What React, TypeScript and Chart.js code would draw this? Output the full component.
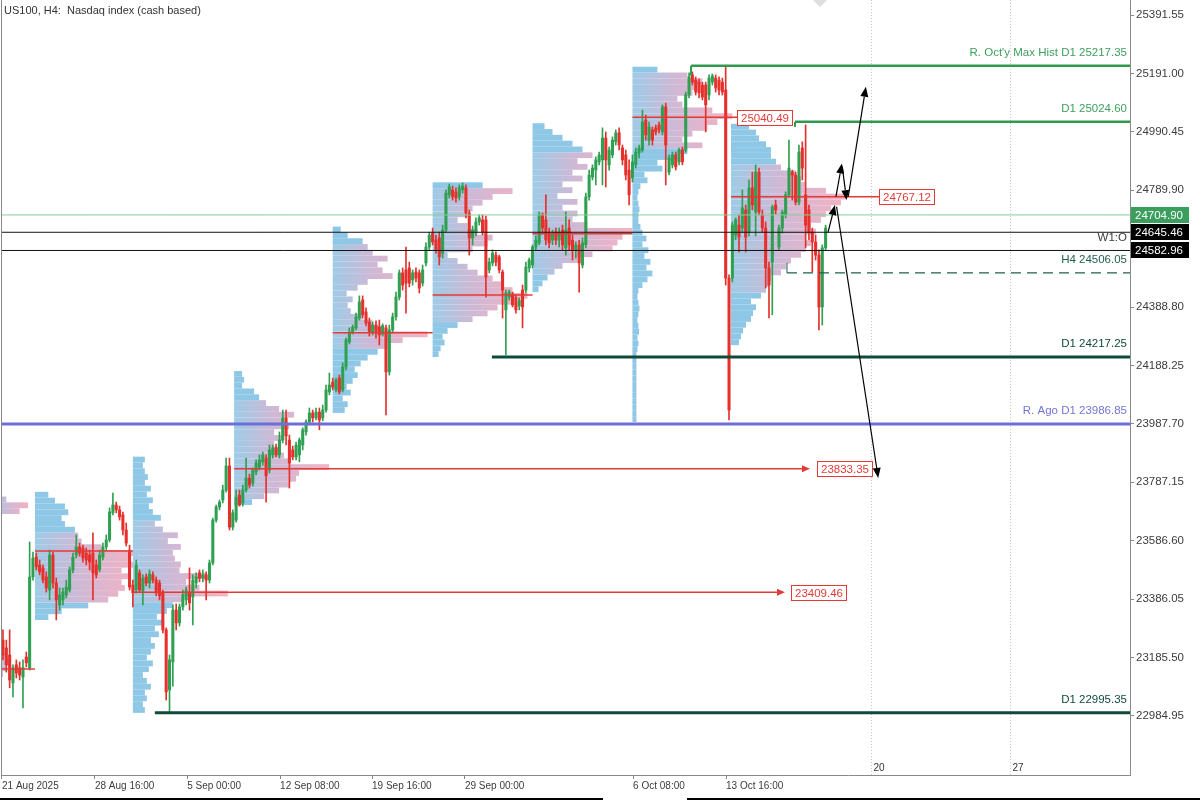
import React, { useEffect, useRef } from "react";
import { Chart, registerables } from "chart.js";

Chart.register(...registerables);

// ---------------- data ----------------
const opens = [
  23245,23218,23194,23098,23160,23150,23118,23187,23150,23462,
  23530,23503,23493,23462,23417,23537,23441,23366,23383,23400,
  23417,23486,23537,23565,23561,23544,23537,23544,23503,23486,
  23530,23565,23589,23682,23709,23692,23675,23623,23554,23434,
  23417,23476,23414,23462,23441,23469,23451,23441,23407,23280,
  23074,23170,23348,23304,23359,23383,23407,23393,23441,23476,
  23458,23469,23451,23510,23657,23702,23726,23760,23843,23633,
  23657,23743,23716,23760,23801,23784,23822,23839,23857,23870,
  23829,23881,23905,23881,23932,24008,23932,23898,23874,23881,
  23915,23960,23994,24025,24008,24028,24008,24035,24097,24131,
  24104,24145,24104,24183,24269,24303,24317,24351,24413,24372,
  24337,24303,24327,24320,24296,24317,24166,24310,24355,24423,
  24506,24516,24523,24482,24509,24506,24471,24540,24595,24643,
  24619,24626,24574,24653,24774,24791,24784,24767,24791,24798,
  24712,24626,24646,24681,24688,24688,24516,24540,24567,24561,
  24509,24379,24423,24433,24420,24392,24447,24447,24523,24533,
  24595,24609,24705,24688,24643,24619,24646,24619,24653,24592,
  24660,24619,24585,24602,24533,24602,24767,24835,24859,24887,
  24894,24969,24877,24911,24956,24987,24935,24911,24859,24832,
  24877,24918,24928,25031,24962,24997,25004,25014,24990,25076,
  24852,24877,24911,24887,24928,24928,25117,25186,25168,25161,
  25151,25151,25117,25161,25175,25168,25161,25134,24488,24488,
  24636,24670,24660,24722,24646,24798,24715,24852,24705,24660,
  24523,24543,24739,24595,24660,24705,24774,24852,24842,24749,
  24935,24774,24722,24646,24612,24567,24389,24592,
];
const highs = [
  23280,23245,23280,23160,23177,23170,23177,23204,23582,23547,
  23544,23520,23503,23479,23554,23547,23458,23424,23424,23451,
  23496,23544,23606,23578,23571,23561,23554,23613,23520,23554,
  23578,23606,23699,23750,23719,23705,23685,23647,23571,23451,
  23520,23486,23469,23472,23486,23479,23462,23451,23417,23287,
  23194,23366,23369,23369,23417,23427,23493,23469,23476,23486,
  23486,23479,23520,23664,23709,23726,23777,23870,23870,23692,
  23760,23760,23777,23870,23815,23836,23864,23881,23891,23881,
  23915,23915,23918,23960,24035,24035,23949,23911,23925,23939,
  23974,24001,24042,24035,24042,24042,24052,24121,24162,24145,
  24145,24155,24197,24282,24317,24327,24368,24427,24427,24386,
  24351,24337,24341,24344,24331,24327,24327,24368,24440,24516,
  24523,24595,24543,24516,24523,24516,24533,24609,24646,24660,
  24636,24646,24670,24791,24811,24804,24798,24808,24815,24808,
  24722,24667,24695,24705,24705,24701,24557,24585,24578,24567,
  24516,24447,24447,24440,24430,24420,24464,24543,24557,24602,
  24633,24715,24712,24774,24660,24653,24660,24660,24670,24715,
  24688,24636,24612,24619,24626,24780,24859,24877,24904,24921,
  25004,24990,24938,24973,24997,25004,24945,24928,24894,24911,
  24935,24945,25065,25048,25024,25007,25014,25024,25083,25089,
  24911,24921,24921,24935,24938,25127,25193,25196,25179,25172,
  25161,25161,25186,25189,25186,25179,25175,25213,24499,24681,
  24695,24705,24791,24739,24825,24852,24877,24866,24722,24681,
  24543,24739,24756,24670,24722,24784,24962,24859,24852,24945,
  24956,25014,24739,24660,24636,24585,24602,24670,
];
const lows = [
  23177,23135,23081,23050,23115,23108,23012,23153,23142,23451,
  23486,23469,23441,23410,23383,23424,23314,23348,23366,23390,
  23410,23476,23527,23533,23513,23503,23486,23383,23458,23479,
  23520,23554,23582,23675,23682,23657,23606,23568,23417,23359,
  23407,23410,23366,23431,23424,23441,23397,23383,23270,23039,
  22995,23087,23280,23293,23348,23366,23348,23297,23424,23445,
  23445,23383,23441,23503,23650,23692,23716,23753,23623,23623,
  23650,23705,23705,23753,23767,23774,23812,23829,23846,23719,
  23819,23870,23874,23870,23922,23915,23767,23864,23864,23857,
  23898,23949,23984,23994,24001,23967,23998,24028,24087,24104,
  24097,24090,24097,24173,24262,24296,24310,24344,24351,24324,
  24289,24293,24282,24259,24289,24018,24155,24300,24344,24413,
  24447,24368,24458,24464,24475,24437,24461,24530,24585,24602,
  24574,24533,24557,24646,24763,24756,24749,24756,24780,24695,
  24567,24602,24633,24670,24636,24423,24506,24530,24530,24506,
  24351,24224,24413,24389,24368,24379,24317,24437,24509,24523,
  24585,24602,24646,24602,24592,24602,24602,24595,24585,24567,
  24585,24550,24557,24440,24523,24592,24756,24825,24808,24877,
  24808,24801,24859,24901,24945,24928,24877,24825,24739,24818,
  24866,24901,24921,24962,24945,24945,24980,24987,24980,24808,
  24842,24866,24859,24877,24877,24921,25107,25151,25117,25107,
  25100,24990,25100,25151,25127,25117,25117,24464,24001,24475,
  24619,24578,24646,24578,24633,24722,24633,24705,24646,24454,
  24351,24362,24708,24585,24643,24695,24767,24756,24739,24739,
  24825,24592,24619,24509,24550,24310,24327,24585,
];
const closes = [
  23194,23160,23108,23150,23132,23125,23150,23167,23462,23527,
  23496,23479,23451,23424,23537,23441,23383,23400,23410,23427,
  23486,23530,23565,23544,23527,23520,23513,23476,23469,23537,
  23565,23589,23685,23709,23692,23668,23623,23578,23427,23407,
  23503,23417,23458,23441,23472,23451,23407,23397,23280,23067,
  23177,23348,23304,23359,23400,23417,23373,23451,23462,23458,
  23469,23451,23510,23657,23702,23719,23760,23843,23633,23682,
  23736,23709,23760,23801,23777,23829,23853,23864,23881,23809,
  23898,23905,23881,23932,24008,23946,23853,23874,23915,23932,
  23967,23994,24025,24008,24028,24001,24035,24104,24121,24114,
  24138,24097,24183,24276,24303,24320,24355,24406,24362,24334,
  24303,24327,24300,24293,24324,24166,24310,24355,24423,24506,
  24464,24471,24471,24506,24488,24454,24516,24595,24636,24612,
  24585,24561,24653,24780,24801,24767,24763,24798,24804,24712,
  24626,24653,24681,24695,24646,24492,24543,24574,24543,24516,
  24447,24437,24440,24396,24379,24413,24389,24526,24550,24595,
  24619,24705,24660,24619,24609,24643,24619,24646,24602,24653,
  24602,24585,24602,24540,24609,24767,24842,24866,24894,24911,
  24969,24894,24928,24962,24987,24945,24894,24842,24774,24887,
  24921,24935,25024,24980,25007,24962,24990,24997,25076,24945,
  24901,24911,24870,24928,24887,25117,25179,25161,25127,25124,
  25110,25083,25175,25182,25141,25134,25127,24488,24035,24670,
  24688,24629,24729,24629,24798,24739,24852,24715,24660,24523,
  24464,24732,24722,24660,24715,24774,24866,24842,24749,24921,
  24866,24670,24646,24612,24567,24389,24592,24660,
];

const xTickIdx = [-0.3, 27.6, 55.3, 83.2, 110.8, 138.7, 189.2, 217.1];
const xTickLabels = ["21 Aug 2025", "28 Aug 16:00", "5 Sep 00:00", "12 Sep 08:00", "19 Sep 16:00", "29 Sep 00:00", "6 Oct 08:00", "13 Oct 16:00"];
const yTickValues = [22984.95, 23185.5, 23386.05, 23586.6, 23787.15, 23987.7, 24188.25, 24388.8, 24789.9, 24990.45, 25191.0, 25391.55];
const futureIdx = [260.7, 302.4];
const futureLabels = ["20", "27"];

// weekly volume profiles (time at price, in bars) — rows of 20 points from base upward
const profileStart = [-3, 9.6, 39, 69.4, 99, 129, 159, 189, 218.6];
const profileBase = [23118, 23314, 22995, 23709, 24025, 24217, 24440, 23994, 24258];
const profileVA = [[23100, 23800], [23383, 23623], [23383, 23657], [23726, 24069], [24241, 24595], [24344, 24791], [24499, 24928], [24928, 25186], [24447, 24876]];
const profile0 = [3, 4, 5, 4, 3, 0, 0, 0, 0, 0, 0, 0, 0, 0, 0, 0, 0, 0, 0, 0, 0, 0, 0, 0, 0, 0, 0, 0, 8, 10.5, 4];
const profile1 = [4, 8, 16, 22, 25, 27, 26, 28, 26, 30, 28, 31, 20, 14, 13, 12, 9, 8, 10, 9, 6, 4];
const profile2 = [3.6, 3, 4.2, 3.6, 5.4, 4.2, 3, 4.8, 6, 4.2, 5.4, 6.6, 5.4, 7.8, 6.6, 9, 7.2, 10.2, 12, 15, 28.5, 20, 16, 22, 14, 14.4, 12.6, 12, 14.4, 10.5, 13.5, 9, 6.6, 8.4, 6, 4.8, 6, 4.2, 5.4, 3.6, 4.5, 3.6, 3, 3.6];
const profile3 = [5.4, 9, 13.5, 16.5, 18.6, 19.5, 28.5, 16.5, 15, 13.5, 12, 14.4, 12, 16.5, 15, 18, 13.5, 9.6, 7.5, 6, 2.4, 3, 2.4];
const profile4 = [3.6, 4.5, 3, 5.4, 4.2, 6, 7.5, 6.6, 8.4, 10.5, 13.5, 16.5, 21, 28.5, 15, 12, 9, 5.4, 4.5, 6, 4.2, 7.5, 10.5, 18, 15, 13.5, 16.5, 12, 10.5, 9, 4.5, 2.4];
const profile5 = [1.8, 2.4, 3.6, 3, 4.5, 7.5, 12, 16.5, 19.5, 24, 28.5, 24, 21, 18, 13.5, 10.5, 7.5, 4.5, 12, 16.5, 18, 13.5, 10.5, 7.5, 10.5, 12, 15, 18, 24, 15];
const profile6 = [1.8, 3, 4.5, 6.6, 9, 13.5, 18, 24, 25.5, 27, 30, 16.5, 12, 13.5, 9, 13.5, 7.5, 12, 9, 15, 12, 16.5, 13.5, 18, 15, 12, 9, 6, 3.6];
const profile7 = [1.2, 1.2, 1.2, 1.2, 1.2, 1.2, 1.2, 1.2, 1.2, 1.2, 1.2, 1.2, 1.5, 1.8, 1.5, 2, 1.8, 1.5, 1.8, 2.1, 1.8, 1.5, 1.8, 3, 4.5, 6, 4.2, 5.4, 3.6, 4.8, 3, 4.2, 3, 2.4, 1.8, 1.8, 2.1, 1.8, 1.5, 1.8, 2.4, 4.5, 3.6, 9, 7.5, 13.5, 16.5, 21, 15, 18, 22.5, 25.5, 30, 24, 15, 13.5, 18, 19.5, 21, 16.5, 7.5];
const profile8 = [2.4, 3, 3.6, 4.5, 6, 6.6, 7.5, 6, 9, 10.5, 11.4, 12, 15, 16.5, 18, 21, 22.5, 24, 22.5, 25.5, 24, 27, 28.5, 30, 33, 34.5, 28.5, 22.5, 21, 19.5, 15, 13.5, 12, 12, 10.5, 8.4, 7.5, 5.4];
const profileVols = [profile0, profile1, profile2, profile3, profile4, profile5, profile6, profile7, profile8];
const ROW_STEP = 20;

// points of control per week
const pocPrices = [23146, 23551, 23409.46, 23833.35, 24300, 24430, 24640, 25040.49, 24767.12];
const pocEnds = [9.6, 39, 234.8, 242.3, 129, 159, 189, 220.4, 263.1];
const pocBoxAt = [null, null, 236.6, 244.4, null, null, null, 220.4, 263.1];

// horizontal levels
const levelPrices = [25217.35, 25024.6, 24704.9, 24645.46, 24582.96, 24506.05, 24217.25, 23986.85, 22995.35];
const levelStarts = [206.6, 237.8, -0.6, -0.6, -0.6, 235.4, 146.8, -0.6, 45.6];
const levelTexts = ["R. Oct'y Max Hist D1 25217.35", "D1 25024.60", "", "", "W1:O", "H4 24506.05", "D1 24217.25", "R. Ago D1 23986.85", "D1 22995.35"];
const axisBoxPrices = [24704.9, 24645.46, 24582.96];

// scenario arrows [index, price]
const arrowFrom = [[247.7, 24644], [250.1, 24768], [252.0, 24871], [253.8, 24768], [250.3, 24733]];
const arrowTo = [[249.8, 24739], [251.9, 24882], [253.3, 24756], [259.1, 25145], [262.8, 23802]];

// ---------------- styles ----------------
const FONT = "'Liberation Sans', Arial, sans-serif";
const GREEN = "#2fa052";
const RED = "#e7302c";
const POC_RED = "#e23b36";
const PROFILE_BLUE = "#8fc8e6";
const levelStyles = [
  { color: "#2f9a4e", text: "#3e9e5e", width: 2.5, dash: [] as number[], stub: 10 },
  { color: "#2f9a4e", text: "#3e9e5e", width: 2.5, dash: [] as number[], stub: 5 },
  { color: "#86cf98", text: "", width: 1, dash: [] as number[], stub: 0 },
  { color: "#111111", text: "", width: 1, dash: [] as number[], stub: 0 },
  { color: "#111111", text: "#3a3a3a", width: 1, dash: [] as number[], stub: 0 },
  { color: "#1f5f4d", text: "#1f5f4d", width: 1.2, dash: [10, 6], stub: -10 },
  { color: "#0f4a3b", text: "#0f4a3b", width: 3, dash: [] as number[], stub: 0 },
  { color: "#6d6fd9", text: "#7474d4", width: 3, dash: [] as number[], stub: 0 },
  { color: "#0f4a3b", text: "#0f4a3b", width: 3, dash: [] as number[], stub: 0 },
];
const axisBoxColors = ["#3a9f5c", "#000000", "#000000"];

function drawArrow(ctx: CanvasRenderingContext2D, x1: number, y1: number, x2: number, y2: number, len: number, half: number, color: string, lw: number) {
  const a = Math.atan2(y2 - y1, x2 - x1);
  const bx = x2 - len * Math.cos(a);
  const by = y2 - len * Math.sin(a);
  ctx.strokeStyle = color;
  ctx.fillStyle = color;
  ctx.lineWidth = lw;
  ctx.setLineDash([]);
  ctx.beginPath();
  ctx.moveTo(x1, y1);
  ctx.lineTo(bx, by);
  ctx.stroke();
  ctx.beginPath();
  ctx.moveTo(x2, y2);
  ctx.lineTo(bx + half * Math.sin(a), by - half * Math.cos(a));
  ctx.lineTo(bx - half * Math.sin(a), by + half * Math.cos(a));
  ctx.closePath();
  ctx.fill();
}

const profilePlugin = {
  id: "profiles",
  beforeDatasetsDraw(chart: any) {
    const { ctx, chartArea, scales } = chart;
    const xs = scales.x, ys = scales.y;
    ctx.save();
    ctx.beginPath();
    ctx.rect(chartArea.left, chartArea.top, chartArea.right - chartArea.left, chartArea.bottom - chartArea.top);
    ctx.clip();
    profileVols.forEach((vols, p) => {
      const x0 = xs.getPixelForValue(profileStart[p]);
      const maxV = Math.max(...vols);
      const maxW = xs.getPixelForValue(profileStart[p] + maxV) - x0;
      const grad = ctx.createLinearGradient(x0, 0, x0 + maxW, 0);
      grad.addColorStop(0, "#9ecbe6");
      grad.addColorStop(0.4, "#cdb9d6");
      grad.addColorStop(1, "#f4b2c2");
      vols.forEach((v: number, k: number) => {
        if (v <= 0) return;
        const lo = profileBase[p] + k * ROW_STEP;
        const hi = lo + ROW_STEP;
        const yt = ys.getPixelForValue(hi);
        const yb = ys.getPixelForValue(lo);
        const w = xs.getPixelForValue(profileStart[p] + v) - x0;
        const mid = lo + ROW_STEP / 2;
        const va = profileVA[p];
        ctx.fillStyle = mid >= va[0] && mid <= va[1] ? grad : PROFILE_BLUE;
        ctx.fillRect(x0, yt, w, yb - yt);
      });
    });
    ctx.restore();
  },
};

const overlayPlugin = {
  id: "overlay",
  afterDatasetsDraw(chart: any) {
    const { ctx, chartArea, scales } = chart;
    const xs = scales.x, ys = scales.y;
    const X = (v: number) => xs.getPixelForValue(v);
    const Y = (v: number) => ys.getPixelForValue(v);
    ctx.save();
    ctx.beginPath();
    ctx.rect(chartArea.left, chartArea.top, chartArea.right - chartArea.left, chartArea.bottom - chartArea.top);
    ctx.clip();

    // future day separators
    futureIdx.forEach((v, i) => {
      const x = Math.round(X(v)) + 0.5;
      ctx.strokeStyle = "#c9c9c9";
      ctx.lineWidth = 1;
      ctx.setLineDash([1, 2]);
      ctx.beginPath();
      ctx.moveTo(x, chartArea.top);
      ctx.lineTo(x, chartArea.bottom);
      ctx.stroke();
      ctx.setLineDash([]);
      ctx.fillStyle = "#333";
      ctx.font = `10px ${FONT}`;
      ctx.textAlign = "left";
      ctx.textBaseline = "alphabetic";
      ctx.fillText(futureLabels[i], x + 2, chartArea.bottom - 4);
    });

    // horizontal levels
    levelPrices.forEach((price, i) => {
      const st = levelStyles[i];
      const y = Y(price);
      const x0 = X(levelStarts[i]);
      ctx.strokeStyle = st.color;
      ctx.lineWidth = st.width;
      ctx.setLineDash(st.dash);
      ctx.beginPath();
      ctx.moveTo(x0, y);
      ctx.lineTo(chartArea.right, y);
      ctx.stroke();
      ctx.setLineDash([]);
      if (st.stub) {
        ctx.lineWidth = st.width > 2 ? 2 : 1;
        ctx.beginPath();
        ctx.moveTo(x0, y);
        ctx.lineTo(x0, y + st.stub);
        ctx.stroke();
      }
      if (levelTexts[i]) {
        ctx.fillStyle = st.text;
        ctx.font = `11.5px ${FONT}`;
        ctx.textAlign = "right";
        ctx.textBaseline = "middle";
        ctx.fillText(levelTexts[i], chartArea.right - 3, y - 13);
      }
    });

    // POC lines and labels
    pocPrices.forEach((price, p) => {
      const y = Y(price);
      const xa = X(Math.max(profileStart[p], -0.6));
      const xb = X(pocEnds[p]);
      const box = pocBoxAt[p];
      if (box !== null && X(box) - xb > 3) {
        drawArrow(ctx, xa, y, xb, y, 8, 3.5, POC_RED, 1.5);
      } else {
        ctx.strokeStyle = POC_RED;
        ctx.lineWidth = 1.5;
        ctx.beginPath();
        ctx.moveTo(xa, y);
        ctx.lineTo(xb, y);
        ctx.stroke();
      }
      if (box !== null) {
        const text = price.toFixed(2);
        ctx.font = `11.5px ${FONT}`;
        const w = Math.round(ctx.measureText(text).width + 7);
        const bx = Math.round(X(box)) + 0.5;
        const by = Math.round(y - 7.5) + 0.5;
        ctx.fillStyle = "#ffffff";
        ctx.fillRect(bx, by, w, 15);
        ctx.strokeStyle = POC_RED;
        ctx.lineWidth = 1;
        ctx.strokeRect(bx, by, w, 15);
        ctx.fillStyle = POC_RED;
        ctx.textAlign = "left";
        ctx.textBaseline = "middle";
        ctx.fillText(text, bx + 3.5, by + 8);
      }
    });

    // scenario arrows
    arrowFrom.forEach((a, i) => {
      const b = arrowTo[i];
      drawArrow(ctx, X(a[0]), Y(a[1]), X(b[0]), Y(b[1]), 10, 4, "#000000", 1.2);
    });
    ctx.restore();
  },
  afterDraw(chart: any) {
    const { ctx, chartArea, scales } = chart;
    const ys = scales.y;
    ctx.save();
    // axis price boxes
    axisBoxPrices.forEach((price, i) => {
      const y = Math.round(ys.getPixelForValue(price));
      ctx.fillStyle = axisBoxColors[i];
      ctx.fillRect(chartArea.right + 1, y - 8, 58, 16);
      ctx.fillStyle = "#ffffff";
      ctx.font = `11.5px ${FONT}`;
      ctx.textAlign = "left";
      ctx.textBaseline = "middle";
      ctx.fillText(price.toFixed(2), chartArea.right + 5, y + 0.5);
    });
    // left frame line
    ctx.fillStyle = "#8a8a8a";
    ctx.fillRect(chartArea.left, chartArea.top, 1, chartArea.bottom - chartArea.top);
    // title
    ctx.fillStyle = "#333333";
    ctx.font = `11px ${FONT}`;
    ctx.textAlign = "left";
    ctx.textBaseline = "middle";
    ctx.fillText("US100, H4:  Nasdaq index (cash based)", 4, 11);
    // chart shift marker
    ctx.fillStyle = "#dedede";
    ctx.beginPath();
    ctx.moveTo(813, 0);
    ctx.lineTo(827, 0);
    ctx.lineTo(820, 7);
    ctx.closePath();
    ctx.fill();
    // bottom bar
    ctx.fillStyle = "#000000";
    ctx.fillRect(0, 798, 603, 2);
    ctx.fillRect(687, 798, 513, 2);
    ctx.restore();
  },
};

export default function App() {
  const ref = useRef<HTMLCanvasElement>(null);
  useEffect(() => {
    const canvas = ref.current;
    if (!canvas) return;
    const colors = closes.map((c, i) => (c >= opens[i] ? GREEN : RED));
    const wickData = highs.map((h, i) => ({ x: i, y: [lows[i], h] }));
    const bodyData = opens.map((o, i) => ({ x: i, y: [o, closes[i]] }));
    const chart = new Chart(canvas, {
      type: "bar",
      data: {
        datasets: [
          { label: "body", data: bodyData as any, backgroundColor: colors, barThickness: 2.4, grouped: false, minBarLength: 1, order: 0, borderWidth: 0 } as any,
          { label: "wick", data: wickData as any, backgroundColor: colors, barThickness: 1, grouped: false, order: 1, borderWidth: 0 } as any,
        ],
      },
      options: {
        animation: false,
        responsive: false,
        maintainAspectRatio: false,
        events: [],
        layout: { padding: { left: 1, top: 0, right: 0, bottom: 0 } },
        plugins: { legend: { display: false }, tooltip: { enabled: false }, title: { display: false } },
        scales: {
          x: {
            type: "linear",
            min: -0.6,
            max: 338.4,
            offset: false,
            grid: { drawOnChartArea: false, tickLength: 4, color: "#888", offset: false },
            border: { color: "#8a8a8a", width: 1 },
            afterBuildTicks: (axis: any) => {
              axis.ticks = xTickIdx.map((v) => ({ value: v }));
            },
            afterFit: (axis: any) => {
              axis.height = 25;
              axis.paddingLeft = 0;
              axis.paddingRight = 0;
            },
            ticks: {
              autoSkip: false,
              maxRotation: 0,
              minRotation: 0,
              align: "start",
              padding: 1,
              color: "#3c3c3c",
              font: { family: FONT, size: 10 },
              callback: (_v: any, i: number) => xTickLabels[i],
            },
          } as any,
          y: {
            type: "linear",
            position: "right",
            min: 22781.7,
            max: 25443.1,
            grid: { drawOnChartArea: false, tickLength: 4, color: "#888" },
            border: { color: "#8a8a8a", width: 1 },
            afterBuildTicks: (axis: any) => {
              axis.ticks = yTickValues.map((v) => ({ value: v }));
            },
            afterFit: (axis: any) => {
              axis.width = 70;
              axis.paddingTop = 0;
              axis.paddingBottom = 0;
            },
            ticks: {
              autoSkip: false,
              padding: 2,
              color: "#3c3c3c",
              font: { family: FONT, size: 11.5 },
              callback: (v: any) => Number(v).toFixed(2),
            },
          } as any,
        },
      },
      plugins: [profilePlugin, overlayPlugin],
    });
    return () => chart.destroy();
  }, []);
  return (
    <div style={{ position: "fixed", left: 0, top: 0, width: 1200, height: 800, background: "#ffffff" }}>
      <canvas ref={ref} width={1200} height={800} style={{ display: "block", width: 1200, height: 800 }} />
    </div>
  );
}
